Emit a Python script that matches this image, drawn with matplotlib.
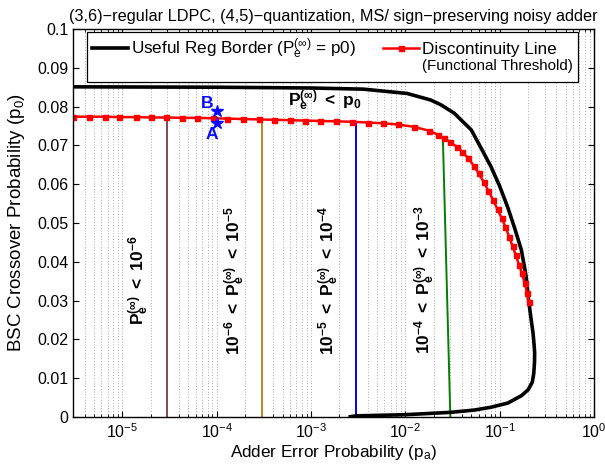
import matplotlib
matplotlib.use('Agg')
import matplotlib.pyplot as plt
import numpy as np
from matplotlib.lines import Line2D
from matplotlib.ticker import LogLocator, NullFormatter

plt.rcParams['font.family'] = ['Liberation Sans', 'DejaVu Sans']
plt.rcParams['mathtext.fontset'] = 'custom'
plt.rcParams['mathtext.rm'] = 'Liberation Sans'
plt.rcParams['mathtext.it'] = 'Liberation Sans'
plt.rcParams['mathtext.bf'] = 'Liberation Sans:bold'
plt.rcParams['mathtext.default'] = 'regular'

# useful region border (black), upper branch then lower branch
border_pa = [3e-6, 1e-4, 1e-3, 3.6e-3, 1.04e-2, 1.86e-2, 2.37e-2, 3.3e-2, 5.0e-2, 6.36e-2,
             8.1e-2, 0.10, 0.122, 0.145, 0.17, 0.19, 0.203, 0.216, 0.226, 0.232,
             0.235, 0.234, 0.230, 0.222, 0.20, 0.17, 0.122, 0.08, 0.054, 0.030,
             0.01, 3e-3, 2.5e-3]
border_p0 = [0.0851, 0.0850, 0.0848, 0.0845, 0.0834, 0.0817, 0.0805, 0.0783, 0.0740, 0.0693,
             0.0645, 0.0595, 0.0540, 0.0485, 0.0430, 0.0365, 0.0300, 0.0250, 0.0216, 0.0185,
             0.0165, 0.0140, 0.0113, 0.0090, 0.0070, 0.0055, 0.0036, 0.0025, 0.0018, 0.0012,
             0.0006, 0.0003, 0.0]

# discontinuity line (red, functional threshold)
disc_pa = [3.0e-6, 4.4e-6, 6.5e-6, 9.3e-6, 1.4e-5, 2.0e-5, 2.9e-5, 4.3e-5, 6.2e-5, 9.1e-5,
           1.3e-4, 1.9e-4, 2.8e-4, 4.1e-4, 6.0e-4, 8.7e-4, 1.26e-3, 1.86e-3, 2.7e-3, 4.0e-3,
           5.8e-3, 8.3e-3, 1.23e-2, 1.78e-2, 2.2e-2, 2.6e-2, 3.0e-2, 3.5e-2, 4.0e-2, 4.6e-2,
           5.3e-2, 6.0e-2, 6.8e-2, 7.6e-2, 8.5e-2, 9.5e-2, 0.105, 0.115, 0.126, 0.137,
           0.148, 0.160, 0.172, 0.184, 0.195, 0.203]
disc_p0 = [0.0774, 0.0774, 0.0774, 0.0773, 0.0773, 0.0772, 0.0772, 0.0771, 0.0771, 0.0770,
           0.0769, 0.0768, 0.0767, 0.0766, 0.0765, 0.0764, 0.0763, 0.0762, 0.0761, 0.0759,
           0.0757, 0.0754, 0.0748, 0.0738, 0.0728, 0.0718, 0.0708, 0.0697, 0.0684, 0.0668,
           0.0648, 0.0628, 0.0605, 0.0583, 0.0560, 0.0535, 0.0513, 0.0490, 0.0465, 0.0440,
           0.0418, 0.0393, 0.0370, 0.0345, 0.0320, 0.0297]

# iso-Pe contours (vertical-ish lines)
iso_pa = [[3e-5, 3e-5], [3e-4, 3e-4], [3e-3, 3e-3], [3.0e-2, 2.5e-2]]
iso_p0 = [[0, 0.0772], [0, 0.0767], [0, 0.0761], [0, 0.0719]]
iso_colors = ['#7f4c4c', '#c4861c', '#0000ff', '#008000']

# operating points
pt_pa = [1e-4, 1e-4]
pt_p0 = [0.0757, 0.0789]

ytick_vals = [0, 0.01, 0.02, 0.03, 0.04, 0.05, 0.06, 0.07, 0.08, 0.09, 0.1]
ytick_labels = ['0', '0.01', '0.02', '0.03', '0.04', '0.05', '0.06', '0.07', '0.08', '0.09', '0.1']

fig = plt.figure(figsize=(6.05, 4.71), dpi=100)
ax = fig.add_axes([0.1207, 0.1146, 0.8611, 0.8238])

for xs, ys, c in zip(iso_pa, iso_p0, iso_colors):
    ax.plot(xs, ys, color=c, linewidth=1.4)

ax.plot(border_pa, border_p0, color='k', linewidth=2.6, solid_capstyle='butt')
ax.plot(disc_pa, disc_p0, color='r', linewidth=1.8, marker='s', markersize=3.6,
        markerfacecolor='r', markeredgecolor='r')

ax.plot(pt_pa, pt_p0, linestyle='none', marker='*', markersize=9, color='#0a0aff')
ax.text(7.9e-5, 0.0809, 'B', color='#0a0aff', fontsize=12.5, fontweight='bold', ha='center', va='center')
ax.text(8.8e-5, 0.0729, 'A', color='#0a0aff', fontsize=12.5, fontweight='bold', ha='center', va='center')

ax.text(5.7e-4, 0.0815, r'$\mathbf{P_e^{(\infty)}\ <\ p_0}$', fontsize=12.5, ha='left', va='center')
region_x = [1.5e-5, 1.55e-4, 1.55e-3, 1.6e-2]
region_txt = [r'$\mathbf{P_e^{(\infty)}\ <\ 10^{-6}}$',
              r'$\mathbf{10^{-6}\ <\ P_e^{(\infty)}\ <\ 10^{-5}}$',
              r'$\mathbf{10^{-5}\ <\ P_e^{(\infty)}\ <\ 10^{-4}}$',
              r'$\mathbf{10^{-4}\ <\ P_e^{(\infty)}\ <\ 10^{-3}}$']
for x, t in zip(region_x, region_txt):
    ax.text(x, 0.0353, t, fontsize=12.5, rotation=90, ha='center', va='center')

ax.set_xscale('log')
ax.set_xlim(3e-6, 1)
ax.set_ylim(0, 0.1)
ax.set_yticks(ytick_vals)
ax.set_yticklabels(ytick_labels)
ax.xaxis.set_major_locator(LogLocator(base=10, numticks=10))
ax.xaxis.set_minor_locator(LogLocator(base=10, subs=np.arange(2, 10), numticks=20))
ax.xaxis.set_minor_formatter(NullFormatter())
ax.tick_params(which='both', direction='in', top=True, right=True, labelsize=11.5)
ax.tick_params(which='major', length=4.5, width=0.8)
ax.tick_params(which='minor', length=2.5, width=0.6)
ax.grid(True, axis='x', which='both', linestyle=(0, (1, 3)), color='0.4', linewidth=0.5)
for s in ax.spines.values():
    s.set_linewidth(1.0)

ax.set_xlabel('Adder Error Probability (p$_a$)', fontsize=12.3, labelpad=2)
ax.set_ylabel('BSC Crossover Probability (p$_0$)', fontsize=13.5, labelpad=7)
ax.set_title('(3,6)\u2212regular LDPC, (4,5)\u2212quantization, MS/ sign\u2212preserving noisy adder',
             fontsize=11.7, pad=6)

h_black = Line2D([], [], color='k', linewidth=2.6)
h_red = Line2D([], [], color='r', linewidth=1.8, marker='s', markersize=3.6)
h_none = Line2D([], [], linestyle='none')
leg = ax.legend([h_black, h_none, h_red, h_none],
                [r'Useful Reg Border (P$_e^{(\infty)}$ = p0)', ' ',
                 'Discontinuity Line', '(Functional Threshold)'],
                ncol=2, loc='upper left', bbox_to_anchor=(0.027, 0.993), borderaxespad=0,
                fontsize=12.3, handlelength=2.1, handletextpad=0.15, columnspacing=1.6,
                labelspacing=0.05, fancybox=False, framealpha=1, edgecolor='k',
                borderpad=0.3)
leg.get_frame().set_linewidth(0.9)
leg.get_texts()[3].set_fontsize(10.9)

fig.savefig('out.png', dpi=100)
